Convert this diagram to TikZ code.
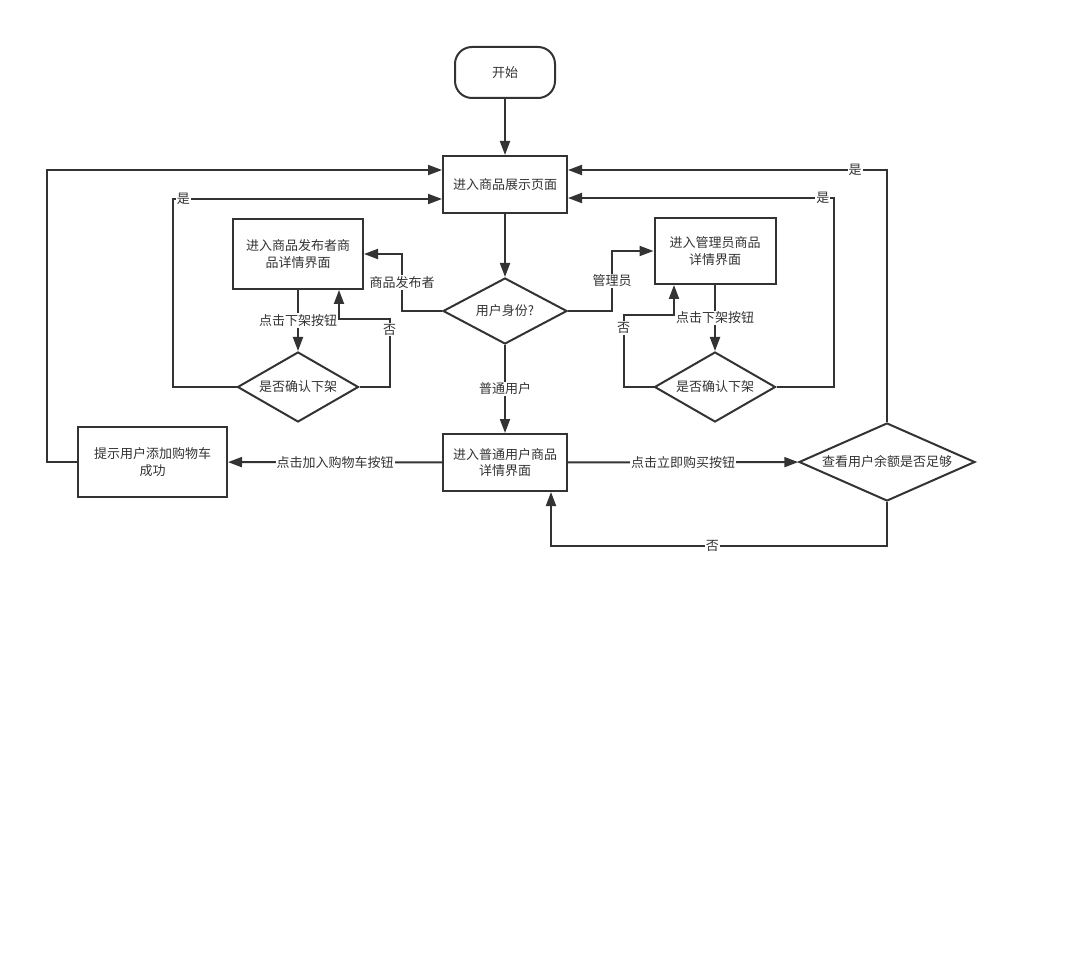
\documentclass[tikz,border=0pt]{standalone}
\usepackage{fontspec}
\setmainfont{Noto Sans CJK SC}
\usetikzlibrary{shapes.geometric,arrows.meta}
\definecolor{linegray}{RGB}{51,51,51}
\begin{document}
\begin{tikzpicture}[x=1pt, y=-1pt,
  font=\fontsize{13}{16.5}\selectfont, text=linegray,
  box/.style={shape=rectangle, draw=linegray, line width=2pt, align=center, inner sep=0pt},
  decide/.style={shape=diamond, draw=linegray, line width=2pt, align=center, inner sep=0pt},
  arr/.style={line width=2pt, draw=linegray, -{Triangle[length=14pt,width=10pt]}},
  lbl/.style={fill=white, inner sep=1pt}]
\useasboundingbox (0,0) rectangle (1067,965);
% nodes
\node[box, rounded corners=17pt, minimum width=100pt, minimum height=51pt] (start) at (505,72.5) {开始};
\node[box, minimum width=124pt, minimum height=57pt] (show) at (505,184.5) {进入商品展示页面};
\node[decide, aspect=1.88, minimum width=124pt, minimum height=66pt] (role) at (505,311) {用户身份?};
\node[box, minimum width=130pt, minimum height=70pt] (pub) at (298,254) {进入商品发布者商\\品详情界面};
\node[box, minimum width=121pt, minimum height=66pt] (adm) at (715,251) {进入管理员商品\\详情界面};
\node[decide, aspect=1.73, minimum width=121pt, minimum height=70pt] (confL) at (298,387) {是否确认下架};
\node[decide, aspect=1.73, minimum width=121pt, minimum height=70pt] (confR) at (715,387) {是否确认下架};
\node[box, minimum width=124pt, minimum height=57pt] (user) at (505,462.5) {进入普通用户商品\\详情界面};
\node[box, minimum width=149pt, minimum height=70pt] (succ) at (152.5,462) {提示用户添加购物车\\成功};
\node[decide, aspect=2.26, minimum width=176pt, minimum height=78pt] (bal) at (887,462) {查看用户余额是否足够};
% connectors
\draw[arr] (start) -- (show);
\draw[arr] (show) -- (role);
\draw[arr] (role.west) -- ++(-40,0) |- node[lbl,pos=0.25]{商品发布者} (pub.east);
\draw[arr] (role.east) -- ++(44,0) |- node[lbl,pos=0.25]{管理员} (adm.west);
\draw[arr] (role) -- node[lbl]{普通用户} (user);
\draw[arr] (pub) -- node[lbl]{点击下架按钮} (confL);
\draw[arr] (confL.east) -- ++(30,0) |- node[lbl,pos=0.42]{否} ([xshift=41pt,yshift=-29pt]pub.south) -- ([xshift=41pt]pub.south);
\draw[arr] (confL.west) -- ++(-64,0) |- node[lbl,pos=0.52]{是} ([yshift=-14.5pt]show.west);
\draw[arr] (adm) -- node[lbl]{点击下架按钮} (confR);
\draw[arr] (confR.west) -- ++(-30,0) |- node[lbl,pos=0.41]{否} ([xshift=-41pt,yshift=-30pt]adm.south) -- ([xshift=-41pt]adm.south);
\draw[arr] (confR.east) -- ++(57,0) |- node[lbl,pos=0.52]{是} ([yshift=-13.5pt]show.east);
\draw[arr] (user) -- node[lbl]{点击加入购物车按钮} (succ);
\draw[arr] (succ.west) -- ++(-30,0) |- ([yshift=14.5pt]show.west);
\draw[arr] (user) -- node[lbl]{点击立即购买按钮} (bal);
\draw[arr] (bal) |- node[lbl,pos=0.55]{是} ([yshift=14.5pt]show.east);
\draw[arr] (bal.south) -- ++(0,44) -| node[lbl,pos=0.26]{否} ([xshift=46pt]user.south);
\end{tikzpicture}
\end{document}
